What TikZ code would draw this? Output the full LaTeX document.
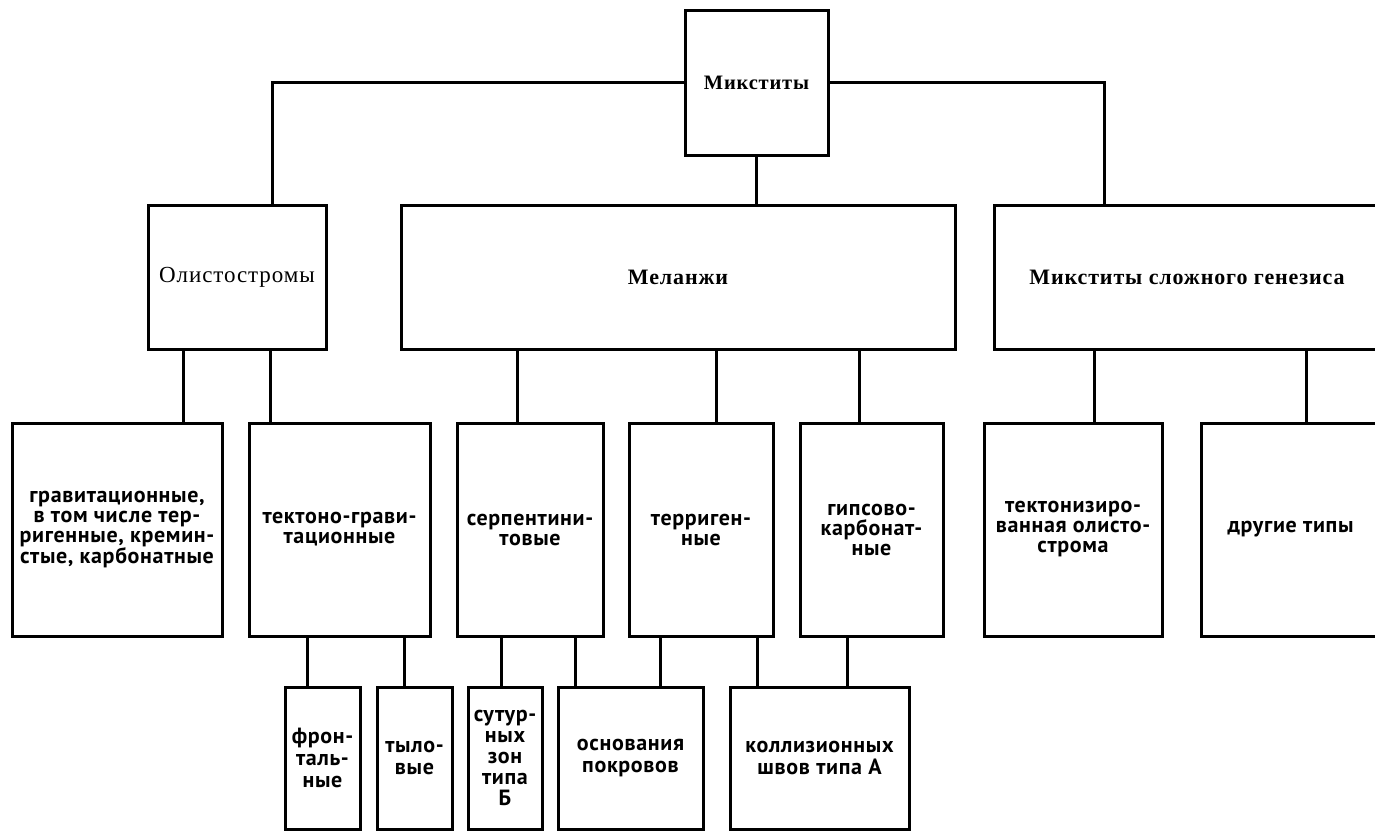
\documentclass[tikz,border=0pt]{standalone}
\usepackage{fontspec}
\setmainfont{PT Sans}[LetterSpace=3]
\newfontfamily\headfont{Liberation Serif}[LetterSpace=4]
\usetikzlibrary{calc}

\tikzset{
  box/.style={draw, inner sep=0pt, align=center,
    font=\bfseries\fontsize{22}{20}\selectfont},
  head/.style={box, font=\headfont\bfseries\fontsize{22}{22}\selectfont},
}

\begin{document}
\begin{tikzpicture}[x=1pt, y=-1pt, line width=3pt]
    \useasboundingbox (0,0) rectangle (1375,831);

    % Root
    \node[head, font=\headfont\bfseries\fontsize{20.5}{22}\selectfont, minimum width=143pt, minimum height=145pt] (mix) at (756.5,82.5) {Микститы};

    % Second level
    \node[box, font=\headfont\fontsize{23}{24}\selectfont, minimum width=178pt, minimum height=144pt] (olist) at (237,277) {Олистостромы};
    \node[head, minimum width=554pt, minimum height=144pt] (melan) at (678,277) {Меланжи};
    \node[head, minimum width=386pt, minimum height=144pt] (compl) at (1187,277) {Микститы сложного генезиса};

    % Third level
    \node[box, minimum width=210pt, minimum height=213pt] (grav) at (117,529.5)
        {гравитационные,\\в том числе тер-\\ригенные, кремин-\\стые, карбонатные};
    \node[box, minimum width=181pt, minimum height=213pt] (tekgr) at (339.5,529.5) {тектоно-грави-\\тационные};
    \node[box, minimum width=146pt, minimum height=213pt] (serp) at (530,529.5) {серпентини-\\товые};
    \node[box, minimum width=144pt, minimum height=213pt] (terr) at (701,529.5) {терриген-\\ные};
    \node[box, minimum width=143pt, minimum height=213pt] (gips) at (871.5,529.5) {гипсово-\\карбонат-\\ные};
    \node[box, minimum width=178pt, minimum height=213pt] (tekol) at (1073,529.5) {тектонизиро-\\ванная олисто-\\строма};
    \node[box, minimum width=179pt, minimum height=213pt] (other) at (1290.5,529.5) {другие типы};

    % Fourth level
    \node[box, font=\bfseries\fontsize{22}{22}\selectfont, minimum width=75pt, minimum height=142pt] (front) at (322.5,758) {фрон-\\таль-\\ные};
    \node[box, font=\bfseries\fontsize{22}{22}\selectfont, minimum width=75pt, minimum height=142pt] (tyl) at (414.5,758) {тыло-\\вые};
    \node[box, font=\bfseries\fontsize{22}{21}\selectfont, minimum width=74pt, minimum height=142pt] (sutur) at (505,758) {сутур-\\ных\\зон\\типа\\Б};
    \node[box, font=\bfseries\fontsize{22}{22}\selectfont, minimum width=145pt, minimum height=142pt] (osnov) at (630.5,758) {основания\\покровов};
    \node[box, font=\bfseries\fontsize{22}{22}\selectfont, minimum width=179pt, minimum height=142pt] (koll) at (819.5,758) {коллизионных\\швов типа А};

    % Root links
    \draw (mix.west) -| ([xshift=35pt]olist.north);
    \draw (mix.east) -| ([xshift=-83pt]compl.north);
    \draw (mix.south) -- (mix.south |- melan.north);

    % Second level links
    \draw ([xshift=-54pt]olist.south) -- ([xshift=66pt]grav.north);
    \draw ([xshift=33pt]olist.south) -- ([xshift=-69.5pt]tekgr.north);
    \draw ([xshift=-161pt]melan.south) -- ([xshift=-13pt]serp.north);
    \draw ([xshift=38pt]melan.south) -- ([xshift=15pt]terr.north);
    \draw ([xshift=181pt]melan.south) -- ([xshift=-12.5pt]gips.north);
    \draw ([xshift=-93pt]compl.south) -- ([xshift=21pt]tekol.north);
    \draw ([xshift=119pt]compl.south) -- ([xshift=15.5pt]other.north);

    % Third level links
    \draw ([xshift=-32.5pt]tekgr.south) -- ([xshift=-15.5pt]front.north);
    \draw ([xshift=64.5pt]tekgr.south) -- ([xshift=-10.5pt]tyl.north);
    \draw ([xshift=-29pt]serp.south) -- ([xshift=-4pt]sutur.north);
    \draw ([xshift=45pt]serp.south) -- ([xshift=-55.5pt]osnov.north);
    \draw ([xshift=-41pt]terr.south) -- ([xshift=29.5pt]osnov.north);
    \draw ([xshift=56pt]terr.south) -- ([xshift=-62.5pt]koll.north);
    \draw ([xshift=-24.5pt]gips.south) -- ([xshift=27.5pt]koll.north);
\end{tikzpicture}
\end{document}
